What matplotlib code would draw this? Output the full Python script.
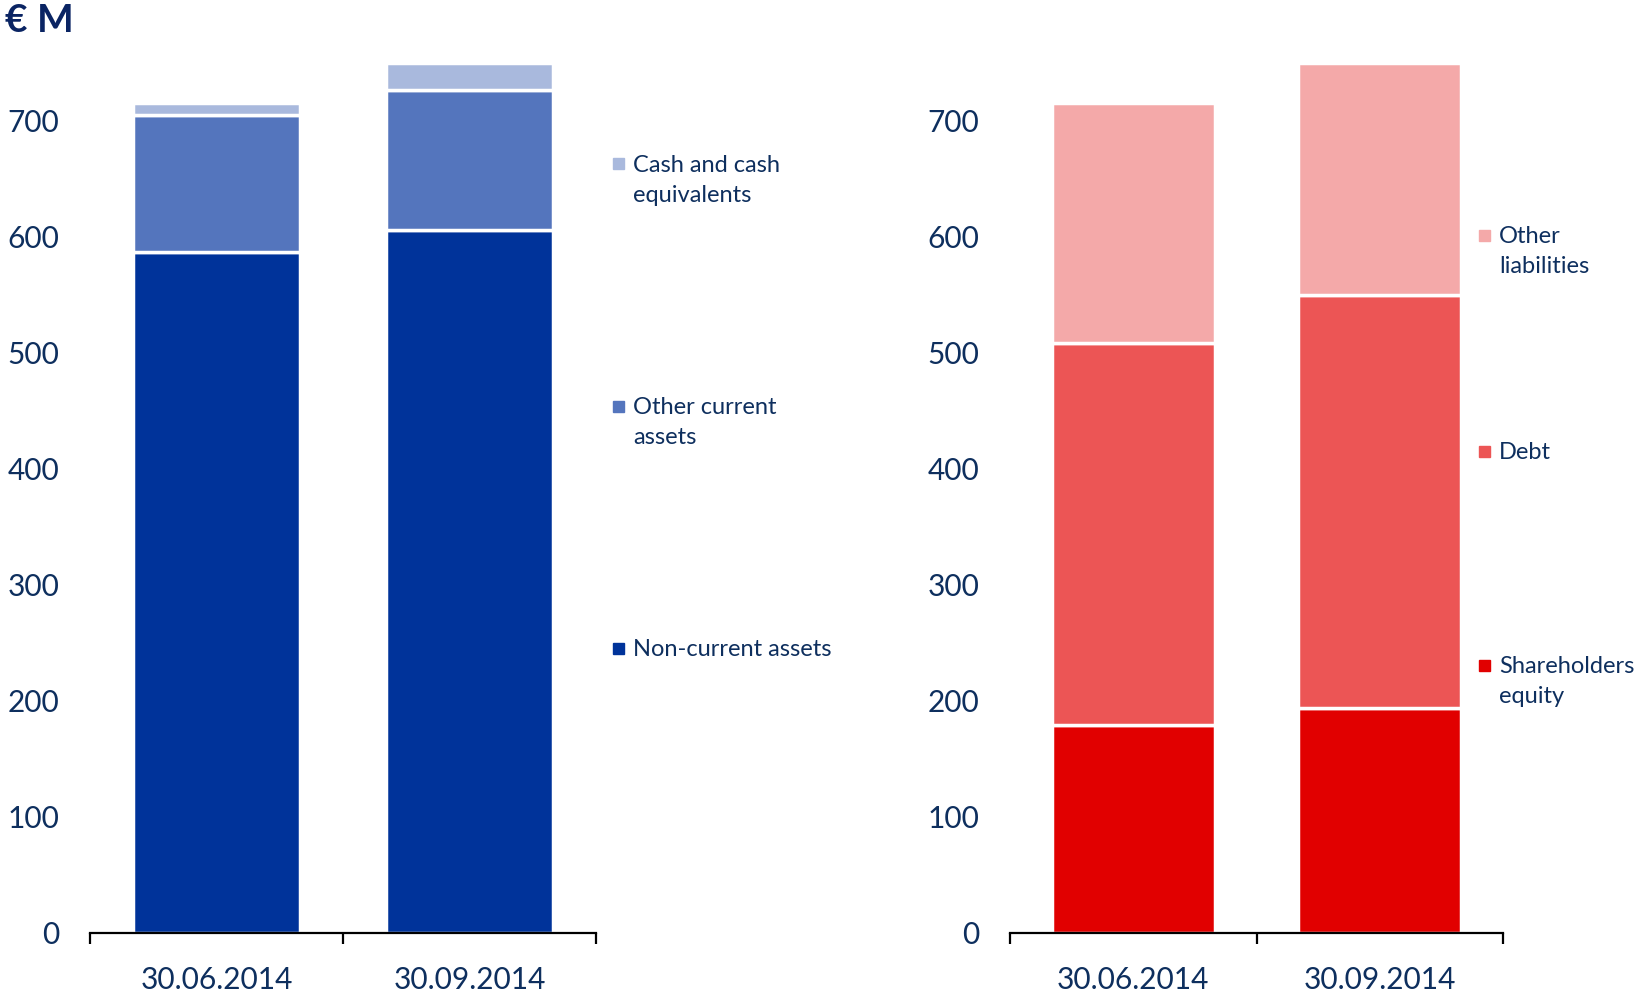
import matplotlib.pyplot as plt
from matplotlib.patches import Rectangle

plt.rcParams['font.family'] = ['Lato', 'DejaVu Sans']

dates = ['30.06.2014', '30.09.2014']

# assets (EUR M)
non_current = [586, 605]
other_current = [118, 121]
cash = [11, 23]

# liabilities and equity (EUR M)
equity = [179, 193]
debt = [329, 356]
other_liab = [207, 200]

TXT = '#0e2f5e'
blues = ['#00339a', '#5475bd', '#a9b9dd']
reds = ['#e10000', '#ec5555', '#f4a9a9']

fig = plt.figure(figsize=(16.43, 9.9), dpi=100)
W, H = 1643, 990


def px(x0, y0, x1, y1):
    return [x0 / W, 1 - y1 / H, (x1 - x0) / W, (y1 - y0) / H]


def stacked(ax, layers, colors):
    bottom = [0, 0]
    for vals, c in zip(layers, colors):
        ax.bar(range(len(dates)), vals, bottom=bottom, width=0.66, color=c,
               edgecolor='white', linewidth=2.5, zorder=2)
        bottom = [b + v for b, v in zip(bottom, vals)]
    ax.set_xlim(-0.5, 1.5)
    ax.set_ylim(0, 760)
    ax.set_yticks(range(0, 701, 100))
    for s in ['top', 'right', 'left']:
        ax.spines[s].set_visible(False)
    ax.spines['bottom'].set_linewidth(1.6)
    ax.tick_params(axis='y', length=0, pad=22, labelsize=21.5, labelcolor=TXT)
    ax.set_xticks([-0.5, 0.5, 1.5])
    ax.set_xticklabels([])
    ax.tick_params(axis='x', which='major', direction='out', length=8, width=1.6)
    ax.set_xticks([0, 1], minor=True)
    ax.set_xticklabels(dates, minor=True)
    ax.tick_params(axis='x', which='minor', length=0, pad=24, labelsize=21.5,
                   labelcolor=TXT)


def legend_entry(x, y, label, color):
    # marker square centred on the first text line
    fig.add_artist(Rectangle((x / W, 1 - (y + 5.5) / H), 11 / W, 11 / H,
                             transform=fig.transFigure, color=color))
    fig.text((x + 20) / W, 1 - (y - 9) / H, label, fontsize=17, color=TXT,
             va='top', ha='left', linespacing=1.55)


ax1 = fig.add_axes(px(90, 50.4, 596, 932.5))
stacked(ax1, [non_current, other_current, cash], blues)

ax2 = fig.add_axes(px(1010, 50.4, 1503, 932.5))
stacked(ax2, [equity, debt, other_liab], reds)

legend_entry(613, 164, 'Cash and cash\nequivalents', blues[2])
legend_entry(613, 406, 'Other current\nassets', blues[1])
legend_entry(613, 648, 'Non-current assets', blues[0])

legend_entry(1479, 235, 'Other\nliabilities', reds[2])
legend_entry(1479, 451, 'Debt', reds[1])
legend_entry(1479, 665, 'Shareholders\nequity', reds[0])

fig.text(5 / W, 1 - 21 / H, '€ M', fontsize=28, fontweight='bold',
         color='#0a2463', va='center', ha='left')

fig.savefig('out.png', dpi=100)
